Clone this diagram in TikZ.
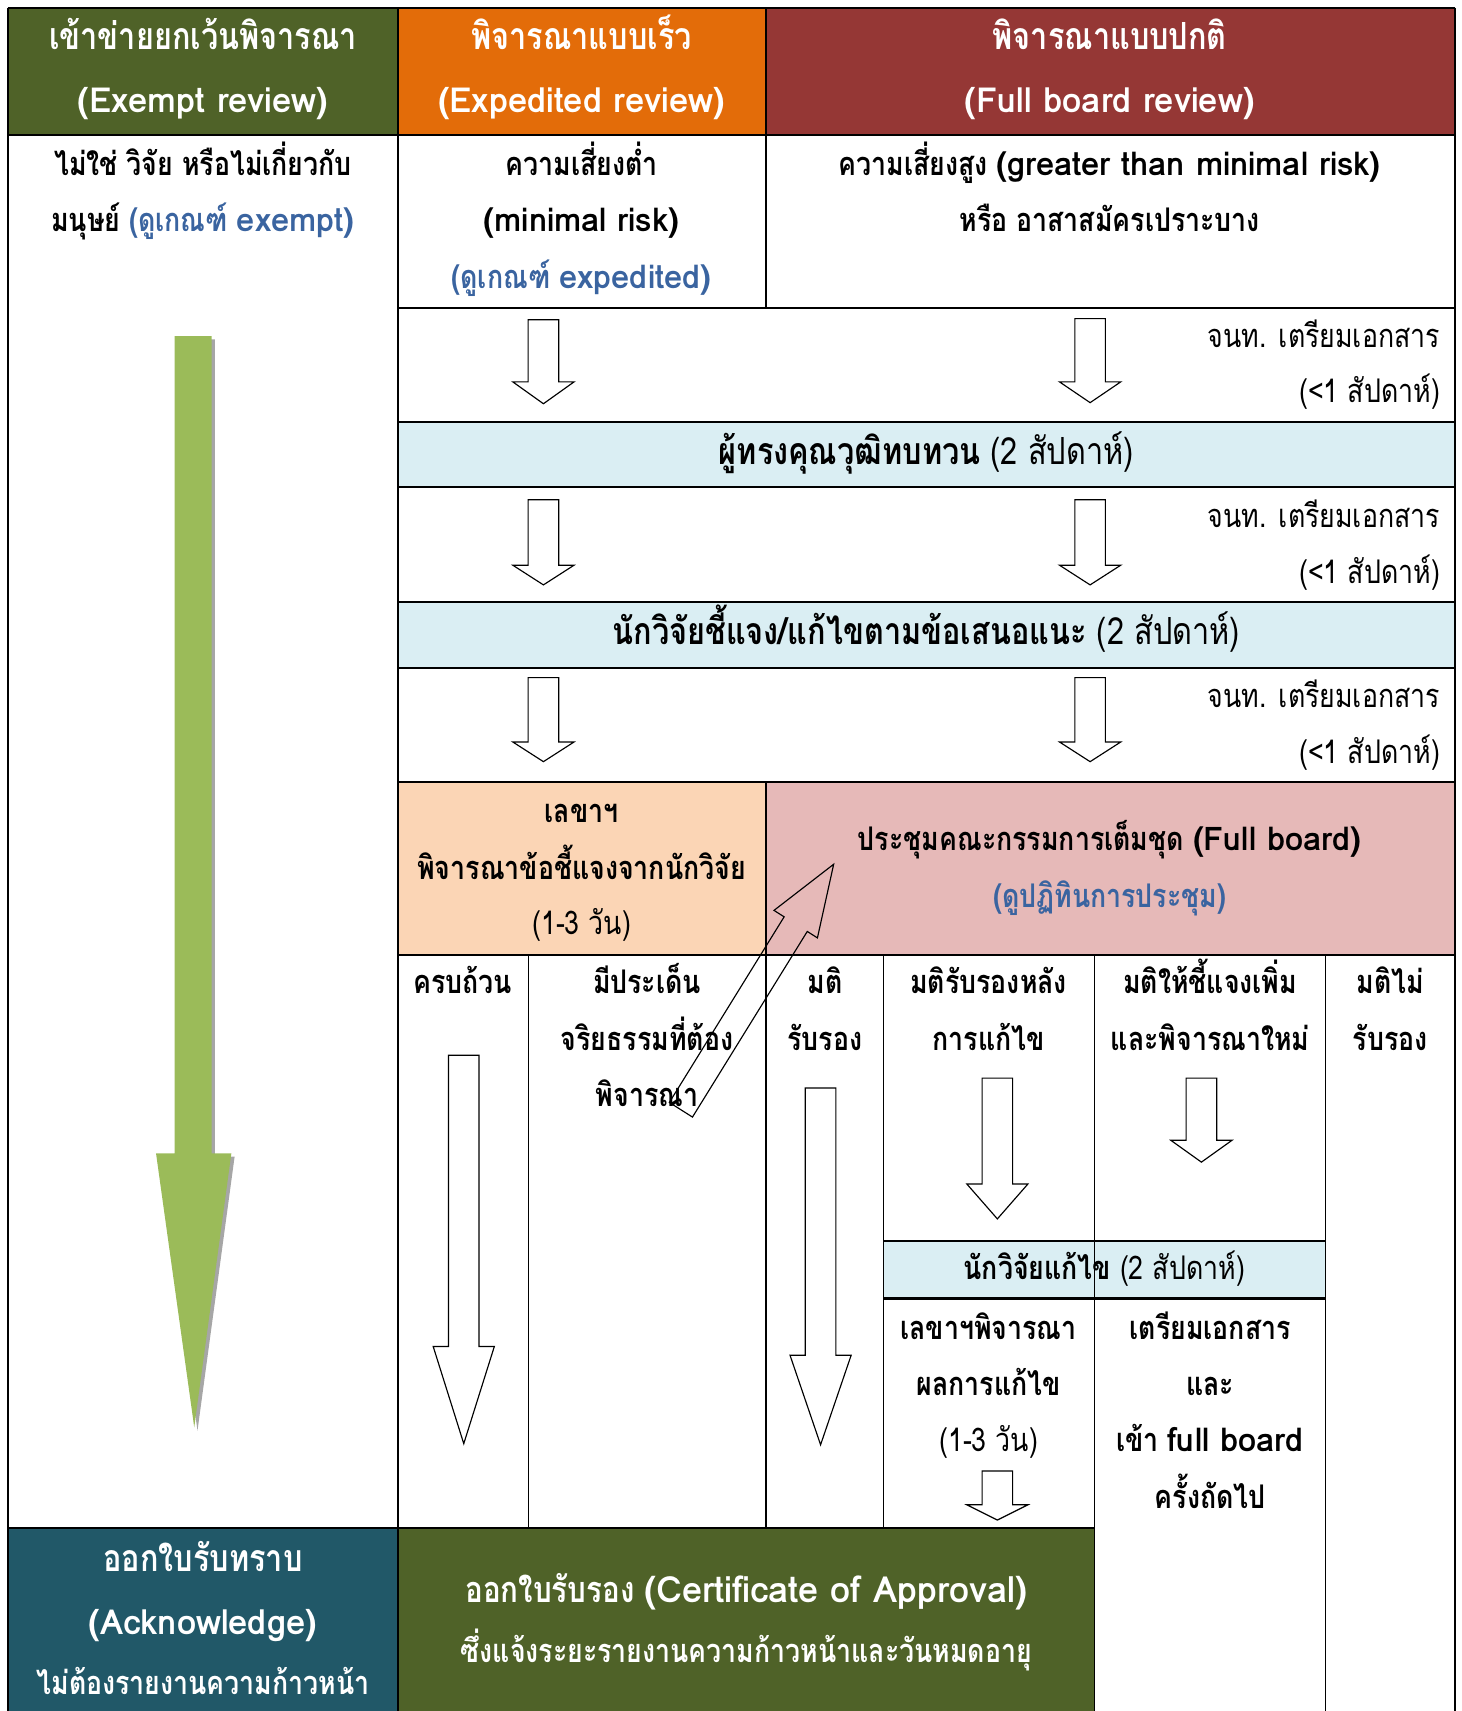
\documentclass[tikz,border=0pt]{standalone}
\usepackage{fontspec}
\setmainfont[Script=Thai, FakeStretch=0.82]{Loma}
\newfontfamily\latfont[Script=Thai]{Loma}
\newcommand{\lat}[1]{{\latfont #1}}
\definecolor{exemptgreen}{HTML}{4F6228}
\definecolor{expedorange}{HTML}{E36C09}
\definecolor{fullred}{HTML}{953735}
\definecolor{bandblue}{HTML}{DAEEF3}
\definecolor{secpeach}{HTML}{FBD5B5}
\definecolor{boardpink}{HTML}{E6B9B8}
\definecolor{ackteal}{HTML}{215868}
\definecolor{linkblue}{HTML}{3A64A0}
\definecolor{bigarrow}{HTML}{9BBB59}
\newcommand{\hollowdown}[4]{\draw [hollow] ({#1-14},#2) -- ({#1+14},#2) -- ({#1+14},#3) -- ({#1+28},#3) -- (#1,#4) -- ({#1-28},#3) -- ({#1-14},#3) -- cycle;}

\begin{document}
\begin{tikzpicture}[x=0.02cm, y=-0.02cm,
  grid/.style={black, line width=1.1pt},
  thin grid/.style={black, line width=0.6pt},
  hollow/.style={draw=black, fill=white, line width=0.6pt, line join=miter},
  txt/.style={inner sep=0pt, anchor=mid, yshift=-0.12cm, font=\fontsize{17}{20}\selectfont\bfseries},
  big/.style={font=\fontsize{19.5}{22}\selectfont\bfseries},
  mid big/.style={font=\fontsize{18}{21}\selectfont\bfseries},
  htxt/.style={txt, text=white},
  ntxt/.style={inner sep=0pt, anchor=mid, yshift=-0.12cm, font=\fontsize{17}{20}\selectfont},
  note/.style={ntxt, anchor=mid east}]
\useasboundingbox (0,0) rectangle (1339,1568);
\fill [exemptgreen] (7,7) rectangle (365,124);
\fill [expedorange] (365,7) rectangle (702,124);
\fill [fullred] (702,7) rectangle (1333,124);
\fill [bandblue] (365,387) rectangle (1333,446);
\fill [bandblue] (365,552) rectangle (1333,612);
\fill [secpeach] (365,717) rectangle (702,875);
\fill [boardpink] (702,717) rectangle (1333,875);
\fill [bandblue] (810,1137) rectangle (1215,1190);
\fill [ackteal] (7,1400) rectangle (365,1568);
\fill [exemptgreen] (365,1400) rectangle (1003,1568);
\draw [grid] (7,7) -- (1333,7);
\draw [grid] (7,124) -- (1333,124);
\foreach \yy in {282,387,446,552,612,717,875}
  \draw [grid] (365,\yy) -- (1333,\yy);
\draw [grid] (810,1137) -- (1215,1137);
\draw [grid] (810,1190) -- (1215,1190);
\draw [grid] (7,1400) -- (1003,1400);
\draw [grid] (7,7) -- (7,1568);
\draw [grid] (365,7) -- (365,1568);
\draw [grid] (1333,7) -- (1333,1568);
\draw [grid] (702,7) -- (702,282);
\draw [thin grid] (702,717) -- (702,1400);
\draw [thin grid] (484,875) -- (484,1400);
\draw [thin grid] (810,875) -- (810,1400);
\draw [thin grid] (1003,875) -- (1003,1568);
\draw [thin grid] (1215,875) -- (1215,1568);
\fill [gray!70] (163,311) -- (197,311) -- (197,1060) -- (215,1060) -- (181,1311) -- (146,1060) -- (163,1060) -- cycle;
\fill [bigarrow] (160,308) -- (194,308) -- (194,1057) -- (212,1057) -- (178,1308) -- (143,1057) -- (160,1057) -- cycle;
\hollowdown{498}{293}{350}{370}
\hollowdown{999}{292}{350}{369}
\hollowdown{498}{458}{518}{536}
\hollowdown{999}{458}{518}{536}
\hollowdown{498}{621}{680}{698}
\hollowdown{999}{621}{680}{698}
\hollowdown{425}{967}{1234}{1323}
\hollowdown{752}{997}{1242}{1324}
\hollowdown{914}{988}{1085}{1117}
\hollowdown{1101}{988}{1045}{1065}
\hollowdown{914}{1348}{1379}{1393}
\node [htxt, big] (hdA1) at (186,35) {เข้าข่ายยกเว้นพิจารณา};
\node [htxt, mid big] (hdA2) at (186,93) {\lat{(Exempt review)}};
\node [htxt, big] (hdB1) at (533,35) {พิจารณาแบบเร็ว};
\node [htxt, mid big] (hdB2) at (533,93) {\lat{(Expedited review)}};
\node [htxt, big] (hdC1) at (1017,35) {พิจารณาแบบปกติ};
\node [htxt, mid big] (hdC2) at (1017,93) {\lat{(Full board review)}};
\node [txt] (exA1) at (186,150) {ไม่ใช่ วิจัย หรือไม่เกี่ยวกับ};
\node [txt] (exA2) at (186,202) {มนุษย์ \textcolor{linkblue}{(ดูเกณฑ์ \lat{exempt)}}};
\node [txt] (exB1) at (533,150) {ความเสี่ยงต่ำ};
\node [txt] (exB2) at (533,202) {\lat{(minimal risk)}};
\node [txt, text=linkblue] (exB3) at (533,254) {(ดูเกณฑ์ \lat{expedited)}};
\node [txt] (exC1) at (1017,150) {ความเสี่ยงสูง \lat{(greater than minimal risk)}};
\node [txt] (exC2) at (1017,202) {หรือ อาสาสมัครเปราะบาง};
\node [note] (prep1a) at (1320,308) {จนท. เตรียมเอกสาร};
\node [note] (prep1b) at (1320,358) {(<1 สัปดาห์)};
\node [note] (prep2a) at (1320,473) {จนท. เตรียมเอกสาร};
\node [note] (prep2b) at (1320,524) {(<1 สัปดาห์)};
\node [note] (prep3a) at (1320,638) {จนท. เตรียมเอกสาร};
\node [note] (prep3b) at (1320,689) {(<1 สัปดาห์)};
\node [txt, big] (reviewer) at (849,415) {ผู้ทรงคุณวุฒิทบทวน\mdseries{} (2 สัปดาห์)};
\node [txt, big] (clarify) at (849,580) {นักวิจัยชี้แจง/แก้ไขตามข้อเสนอแนะ\mdseries{} (2 สัปดาห์)};
\node [txt] (secA) at (533,743) {เลขาฯ};
\node [txt] (secB) at (533,795) {พิจารณาข้อชี้แจงจากนักวิจัย};
\node [ntxt] (secC) at (533,846) {(1-3 วัน)};
\node [txt] (boardA) at (1017,769) {ประชุมคณะกรรมการเต็มชุด \lat{(Full board)}};
\node [txt, text=linkblue] (boardB) at (1017,821) {(ดูปฏิทินการประชุม)};
\node [txt] (complete) at (424,900) {ครบถ้วน};
\node [txt] (issueA) at (593,900) {มีประเด็น};
\node [txt] (issueB) at (593,952) {จริยธรรมที่ต้อง};
\node [txt] (issueC) at (593,1003) {พิจารณา};
\node [txt] (approveA) at (756,900) {มติ};
\node [txt] (approveB) at (756,952) {รับรอง};
\node [txt] (condA) at (906,900) {มติรับรองหลัง};
\node [txt] (condB) at (906,952) {การแก้ไข};
\node [txt] (moreA) at (1109,900) {มติให้ชี้แจงเพิ่ม};
\node [txt] (moreB) at (1109,952) {และพิจารณาใหม่};
\node [txt] (rejectA) at (1274,900) {มติไม่};
\node [txt] (rejectB) at (1274,952) {รับรอง};
\node [txt] (revise) at (1012,1162) {นักวิจัยแก้ไข\mdseries{} (2 สัปดาห์)};
\node [txt] (checkA) at (906,1217) {เลขาฯพิจารณา};
\node [txt] (checkB) at (906,1268) {ผลการแก้ไข};
\node [ntxt] (checkC) at (906,1320) {(1-3 วัน)};
\node [txt] (nextA) at (1109,1217) {เตรียมเอกสาร};
\node [txt] (nextB) at (1109,1268) {และ};
\node [txt] (nextC) at (1109,1320) {เข้า \lat{full board}};
\node [txt] (nextD) at (1109,1372) {ครั้งถัดไป};
\node [htxt, big] (ackA) at (186,1430) {ออกใบรับทราบ};
\node [htxt, mid big] (ackB) at (186,1487) {\lat{(Acknowledge)}};
\node [htxt] (ackC) at (186,1542) {ไม่ต้องรายงานความก้าวหน้า};
\node [htxt, font=\fontsize{18.8}{22}\selectfont\bfseries] (certA) at (684,1458) {ออกใบรับรอง \lat{(Certificate of Approval)}};
\node [htxt] (certB) at (684,1513) {ซึ่งแจ้งระยะรายงานความก้าวหน้าและวันหมดอายุ};
\draw [hollow, fill=none] (634.6,1023.7) -- (739.8,853.6) -- (749.1,859.5) -- (764,792) -- (709.3,834.3) -- (718.6,840.2) -- (613.4,1010.3) -- cycle;
\end{tikzpicture}
\end{document}
